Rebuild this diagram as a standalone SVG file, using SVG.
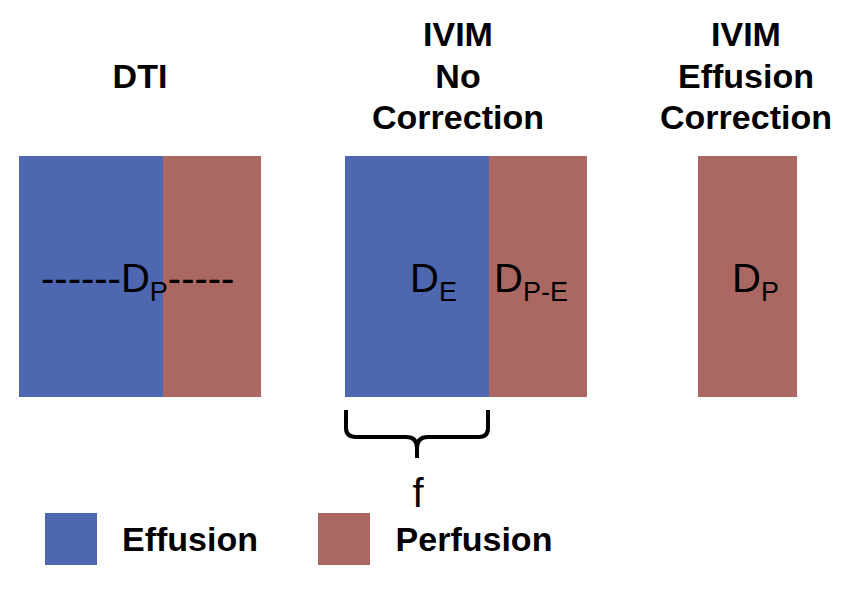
<svg xmlns="http://www.w3.org/2000/svg" width="854" height="590" viewBox="0 0 854 590">
<style>
.t{font-family:"Liberation Sans",Arial,sans-serif;font-weight:bold;font-size:34px;fill:#000;text-anchor:middle}
.d{font-family:"Liberation Sans",Arial,sans-serif;font-size:40px;fill:#000}
.s{font-size:27px}
.b{fill:#4E67B1}
.r{fill:#AB6862}
</style>
<rect width="854" height="590" fill="#fff"/>
<g id="titles">
<text class="t" x="140" y="88">DTI</text>
<text class="t" x="458" y="46">IVIM</text>
<text class="t" x="458" y="88">No</text>
<text class="t" x="458" y="129">Correction</text>
<text class="t" x="746" y="46">IVIM</text>
<text class="t" x="746" y="88">Effusion</text>
<text class="t" x="746" y="129">Correction</text>
</g>
<g id="dti">
<rect class="b" x="19" y="156" width="144" height="241"/>
<rect class="r" x="163" y="156" width="98" height="241"/>
<text class="d" x="41" y="292">------D<tspan class="s" dy="9">P</tspan><tspan dy="-9">-----</tspan></text>
</g>
<g id="ivim-no">
<rect class="b" x="345" y="156" width="144" height="241"/>
<rect class="r" x="489" y="156" width="98" height="241"/>
<text class="d" x="410" y="292">D<tspan class="s" dy="9">E</tspan></text>
<text class="d" x="494" y="292">D<tspan class="s" dy="9">P-E</tspan></text>
</g>
<g id="ivim-corr">
<rect class="r" x="698" y="156" width="99" height="241"/>
<text class="d" x="732" y="292">D<tspan class="s" dy="9">P</tspan></text>
</g>
<g id="connectors">
<path d="M346,410 V428 Q346,437 356,437 H406 Q417,437 417,448 V458 M417,448 Q417,437 428,437 H479 Q488,437 488,428 V410" fill="none" stroke="#000" stroke-width="4"/>
<text class="d" x="418" y="507" text-anchor="middle">f</text>
</g>
<g id="legend">
<rect class="b" x="45" y="513" width="52" height="52"/>
<text class="t" x="190" y="551">Effusion</text>
<rect class="r" x="318" y="513" width="52" height="52"/>
<text class="t" x="474" y="551">Perfusion</text>
</g>
</svg>
